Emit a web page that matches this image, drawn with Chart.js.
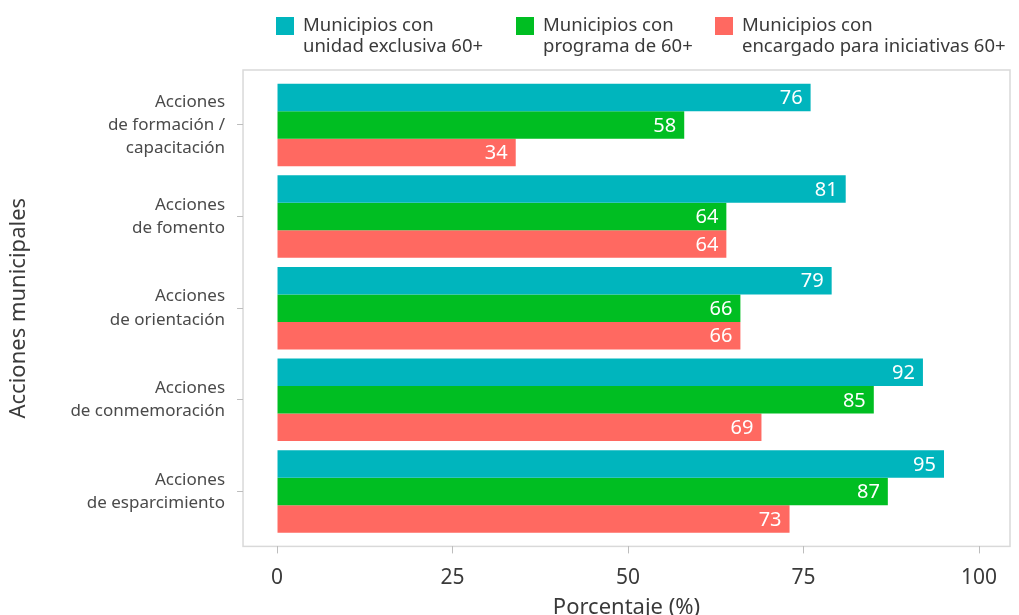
<!DOCTYPE html>
<html lang="es">
<head>
<meta charset="UTF-8">
<title>Acciones municipales</title>
<script src="https://cdn.jsdelivr.net/npm/chart.js@4.4.1/dist/chart.umd.min.js"></script>
<style>
  html, body { margin: 0; padding: 0; background: #fff; }
  #wrap { width: 1019px; height: 615px; }
</style>
</head>
<body>
<div id="wrap"><canvas id="chart" width="1019" height="615"></canvas></div>
<script>
    // acciones (de arriba hacia abajo)
    var acciones = [
        ['Acciones', 'de formación /', 'capacitación'],
        ['Acciones', 'de fomento'],
        ['Acciones', 'de orientación'],
        ['Acciones', 'de conmemoración'],
        ['Acciones', 'de esparcimiento']
    ];
    var seriesNombres = [
        ['Municipios con', 'unidad exclusiva 60+'],
        ['Municipios con', 'programa de 60+'],
        ['Municipios con', 'encargado para iniciativas 60+']
    ];
    var unidadExclusiva = [76, 81, 79, 92, 95];
    var programa = [58, 64, 66, 85, 87];
    var encargado = [34, 64, 66, 69, 73];
    var xTicks = [0, 25, 50, 75, 100];

    var colores = ['#00B5BD', '#00BE22', '#FF6961'];
    var fuente = '"Noto Sans", sans-serif';

    function puntos(valores) {
        return valores.map(function (v, i) { return { x: v, y: i + 1 }; });
    }

    // marco del panel y leyenda de dos líneas
    var panelPlugin = {
        id: 'panel',
        beforeDraw: function (chart) {
            var a = chart.chartArea, ctx = chart.ctx;
            ctx.save();
            ctx.strokeStyle = '#d9d9d9';
            ctx.lineWidth = 1.5;
            ctx.strokeRect(a.left, a.top, a.right - a.left, a.bottom - a.top);
            ctx.restore();
        },
        afterDraw: function (chart) {
            var ctx = chart.ctx;
            var posX = [276, 516, 715];
            ctx.save();
            ctx.font = '18.5px ' + fuente;
            ctx.textBaseline = 'middle';
            ctx.textAlign = 'left';
            seriesNombres.forEach(function (lineas, i) {
                ctx.fillStyle = colores[i];
                ctx.fillRect(posX[i], 17, 18, 18);
                ctx.fillStyle = '#3a3a3a';
                lineas.forEach(function (t, j) {
                    ctx.fillText(t, posX[i] + 27, 26 + j * 21);
                });
            });
            ctx.restore();
        }
    };

    // valor en blanco dentro del extremo de cada barra
    var valoresPlugin = {
        id: 'valores',
        afterDatasetsDraw: function (chart) {
            var ctx = chart.ctx;
            ctx.save();
            ctx.font = '20px ' + fuente;
            ctx.fillStyle = '#ffffff';
            ctx.textAlign = 'right';
            ctx.textBaseline = 'middle';
            chart.data.datasets.forEach(function (ds, di) {
                chart.getDatasetMeta(di).data.forEach(function (bar, i) {
                    ctx.fillText(String(ds.data[i].x), bar.x - 8, bar.y + 1);
                });
            });
            ctx.restore();
        }
    };

    new Chart(document.getElementById('chart'), {
        type: 'bar',
        data: {
            datasets: [
                { label: seriesNombres[0].join(' '), data: puntos(unidadExclusiva), backgroundColor: colores[0] },
                { label: seriesNombres[1].join(' '), data: puntos(programa), backgroundColor: colores[1] },
                { label: seriesNombres[2].join(' '), data: puntos(encargado), backgroundColor: colores[2] }
            ]
        },
        options: {
            indexAxis: 'y',
            responsive: false,
            animation: false,
            layout: { padding: { top: 70, right: 9, bottom: -6, left: 6 } },
            datasets: { bar: { categoryPercentage: 0.9, barPercentage: 1.0, borderWidth: 0 } },
            plugins: {
                legend: { display: false },
                tooltip: { enabled: false }
            },
            scales: {
                x: {
                    type: 'linear',
                    min: -4.84,
                    max: 104.4,
                    afterBuildTicks: function (scale) {
                        scale.ticks = xTicks.map(function (v) { return { value: v }; });
                    },
                    grid: { drawOnChartArea: false, drawTicks: true, tickLength: 7, color: '#bdbdbd', lineWidth: 1 },
                    border: { display: false },
                    ticks: { color: '#3a3a3a', font: { family: fuente, size: 21 }, padding: 12, maxRotation: 0 },
                    title: { display: true, text: 'Porcentaje (%)', color: '#3a3a3a', font: { family: fuente, size: 22 }, padding: { top: -8, bottom: 0 } }
                },
                y: {
                    type: 'linear',
                    offset: false,
                    min: 0.4,
                    max: 5.6,
                    reverse: true,
                    afterBuildTicks: function (scale) {
                        scale.ticks = acciones.map(function (a, i) { return { value: i + 1 }; });
                    },
                    grid: { offset: false, drawOnChartArea: false, drawTicks: true, tickLength: 6, color: '#bdbdbd', lineWidth: 1 },
                    border: { display: false },
                    ticks: {
                        color: '#4a4a4a',
                        font: { family: fuente, size: 17, lineHeight: 1.36 },
                        padding: 12,
                        callback: function (v) { return acciones[v - 1]; }
                    },
                    title: { display: true, text: 'Acciones municipales', color: '#3a3a3a', font: { family: fuente, size: 22 }, padding: { top: 0, bottom: 26 } }
                }
            }
        },
        plugins: [panelPlugin, valoresPlugin]
    });
</script>
</body>
</html>
